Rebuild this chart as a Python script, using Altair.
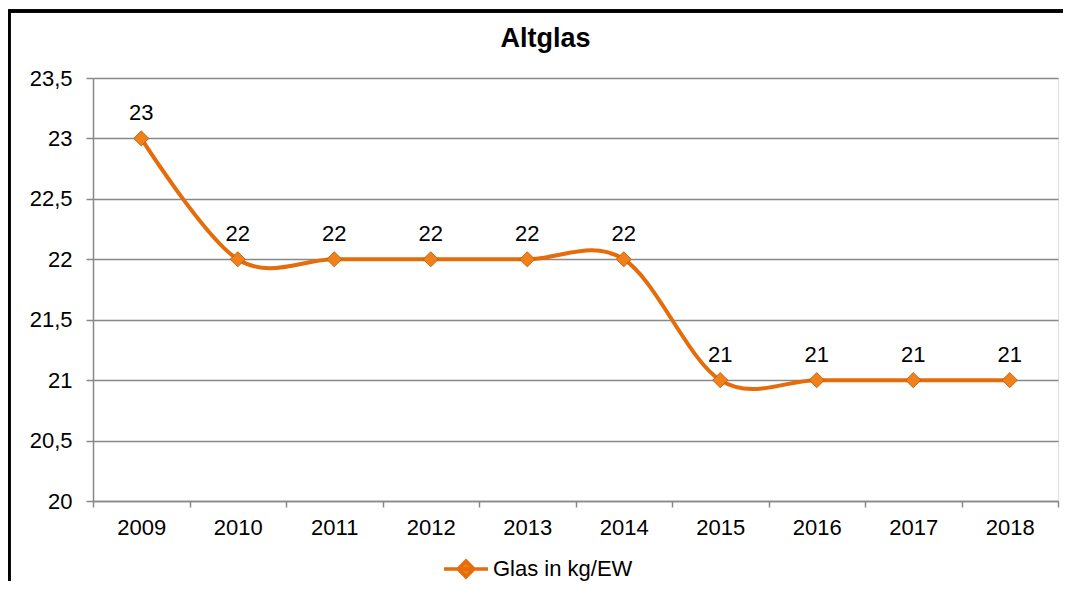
import altair as alt
import pandas as pd

years = ["2009", "2010", "2011", "2012", "2013", "2014", "2015", "2016", "2017", "2018"]
values = [23, 22, 22, 22, 22, 22, 21, 21, 21, 21]
series_name = "Glas in kg/EW"
y_ticks = [20, 20.5, 21, 21.5, 22, 22.5, 23, 23.5]

df = pd.DataFrame({"Jahr": years, "Wert": values, "Serie": [series_name] * len(years)})

ORANGE = "#E46C0A"
FONT = "Liberation Sans"
FS = 22

x_enc = alt.X(
    "Jahr:O",
    sort=years,
    bandPosition=0.5,
    scale=alt.Scale(type="band", paddingInner=0, paddingOuter=0),
    axis=alt.Axis(
        title=None, labelAngle=0, tickBand="extent", grid=False,
        domainColor="#888888", domainWidth=1.5, tickColor="#888888", tickWidth=1.5,
        tickSize=6, labelPadding=10, labelFontSize=FS, labelFont=FONT, labelColor="#000000",
    ),
)
y_enc = alt.Y(
    "Wert:Q",
    scale=alt.Scale(domain=[20, 23.5], nice=False, zero=False),
    axis=alt.Axis(
        title=None, values=y_ticks, labelExpr="replace(toString(datum.value), '.', ',')",
        grid=True, gridColor="#888888", gridWidth=1.5,
        domainColor="#888888", domainWidth=1.5, tickColor="#888888", tickWidth=1.5,
        tickSize=7, labelPadding=14, labelFontSize=FS, labelFont=FONT, labelColor="#000000",
    ),
)

# legend symbol: line segment with a diamond in the middle (path scaled by sqrt(size)/2 = 11)
legend_path = "M-2,0H2M0,-0.72L0.72,0L0,0.72L-0.72,0Z"

line = alt.Chart(df).mark_line(interpolate="cardinal", strokeWidth=4).encode(
    x=x_enc,
    y=y_enc,
    color=alt.Color(
        "Serie:N",
        scale=alt.Scale(range=[ORANGE]),
        legend=alt.Legend(
            title=None, orient="none", legendX=360, legendY=478,
            symbolType=legend_path, symbolSize=484, symbolFillColor="#F07F12",
            symbolStrokeWidth=3.5, labelFontSize=FS, labelFont=FONT, labelColor="#000000",
            labelOffset=14,
        ),
    ),
)

points = alt.Chart(df).mark_point(
    shape="diamond", filled=True, size=230, fill="#F0801A", stroke="#B85508",
    strokeWidth=0.8, opacity=1,
).encode(x=x_enc, y=y_enc)

labels = alt.Chart(df).mark_text(
    baseline="alphabetic", dy=-18, fontSize=FS, font=FONT, color="#000000"
).encode(x=x_enc, y=y_enc, text=alt.Text("Wert:Q", format="d"))

frame_left = alt.Chart(df).mark_rule(color="#000000", strokeWidth=2.5).encode(
    x=alt.value(-84), y=alt.value(-67), y2=alt.value(510)
)
frame_top = alt.Chart(df).mark_rule(color="#000000", strokeWidth=2.5).encode(
    x=alt.value(-85), x2=alt.value(980), y=alt.value(-67)
)

chart = (
    alt.layer(frame_left, frame_top, line, points, labels)
    .properties(
        width=965,
        height=423,
        autosize=alt.AutoSizeParams(type="none"),
        padding={"left": 85, "top": 70, "right": 5, "bottom": 80},
        title=alt.TitleParams(
            "Altglas", font=FONT, fontSize=27, fontWeight="bold", color="#000000",
            anchor="middle", dx=-30, offset=-64, baseline="alphabetic",
        ),
    )
    .configure_view(stroke=None)
    .configure(background="#FFFFFF")
)

chart.save("out.html", embed_options={"renderer": "svg", "actions": False})
